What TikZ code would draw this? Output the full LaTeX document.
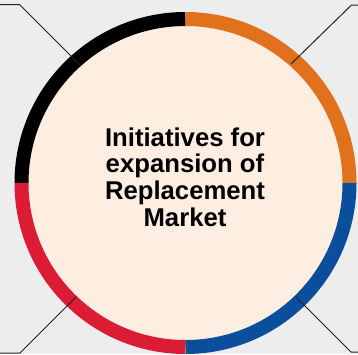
\documentclass[tikz,border=0pt]{standalone}
\usepackage{fontspec}
\setmainfont{Liberation Sans}
\usetikzlibrary{calc}
\definecolor{bggray}{HTML}{EDEDED}
\definecolor{peach}{HTML}{FDEEE1}
\definecolor{ringorange}{HTML}{E2711D}
\definecolor{ringblue}{HTML}{0B4F9C}
\definecolor{ringred}{HTML}{DC1C35}
\definecolor{leader}{HTML}{222222}
\begin{document}
\begin{tikzpicture}[x=1pt,y=-1pt,
  ringseg/.style={line width=14pt},
  leaderline/.style={draw=leader,line width=1pt},
  titletext/.style={font=\bfseries\fontsize{25.7}{26.7}\selectfont,align=center,inner sep=0pt,text=black}]
\fill[bggray] (0,0) rectangle (358,354);
\useasboundingbox (0,0) rectangle (358,354);
\coordinate (c) at (185.5,183);
\fill[peach] (c) circle[radius=164pt];
% ring quadrants (polar angles in pt are unaffected by the flipped y axis)
\draw[ringseg,black] ($(c)+(90:164pt)$) arc[start angle=90,end angle=180,radius=164pt];
\draw[ringseg,ringorange] ($(c)+(0:164pt)$) arc[start angle=0,end angle=90,radius=164pt];
\draw[ringseg,ringblue] ($(c)+(270:164pt)$) arc[start angle=270,end angle=360,radius=164pt];
\draw[ringseg,ringred] ($(c)+(180:164pt)$) arc[start angle=180,end angle=270,radius=164pt];
% leader lines
\coordinate (tlA) at (0,4.5);
\coordinate (tlB) at (19.5,4.5);
\coordinate (tlC) at (80.2,65.2);
\coordinate (trA) at (358,5);
\coordinate (trB) at (351.5,5);
\coordinate (trC) at (291,64);
\coordinate (blA) at (0,353);
\coordinate (blB) at (20,353);
\coordinate (blC) at (76,297);
\coordinate (brA) at (358,352);
\coordinate (brB) at (351,352);
\coordinate (brC) at (296,297);
\draw[leaderline] (tlA) -- (tlB) -- (tlC);
\draw[leaderline] (trA) -- (trB) -- (trC);
\draw[leaderline] (blA) -- (blB) -- (blC);
\draw[leaderline] (brA) -- (brB) -- (brC);
\node[titletext] (title) at (185,177) {Initiatives for\\expansion of\\Replacement\\Market};
\end{tikzpicture}
\end{document}
